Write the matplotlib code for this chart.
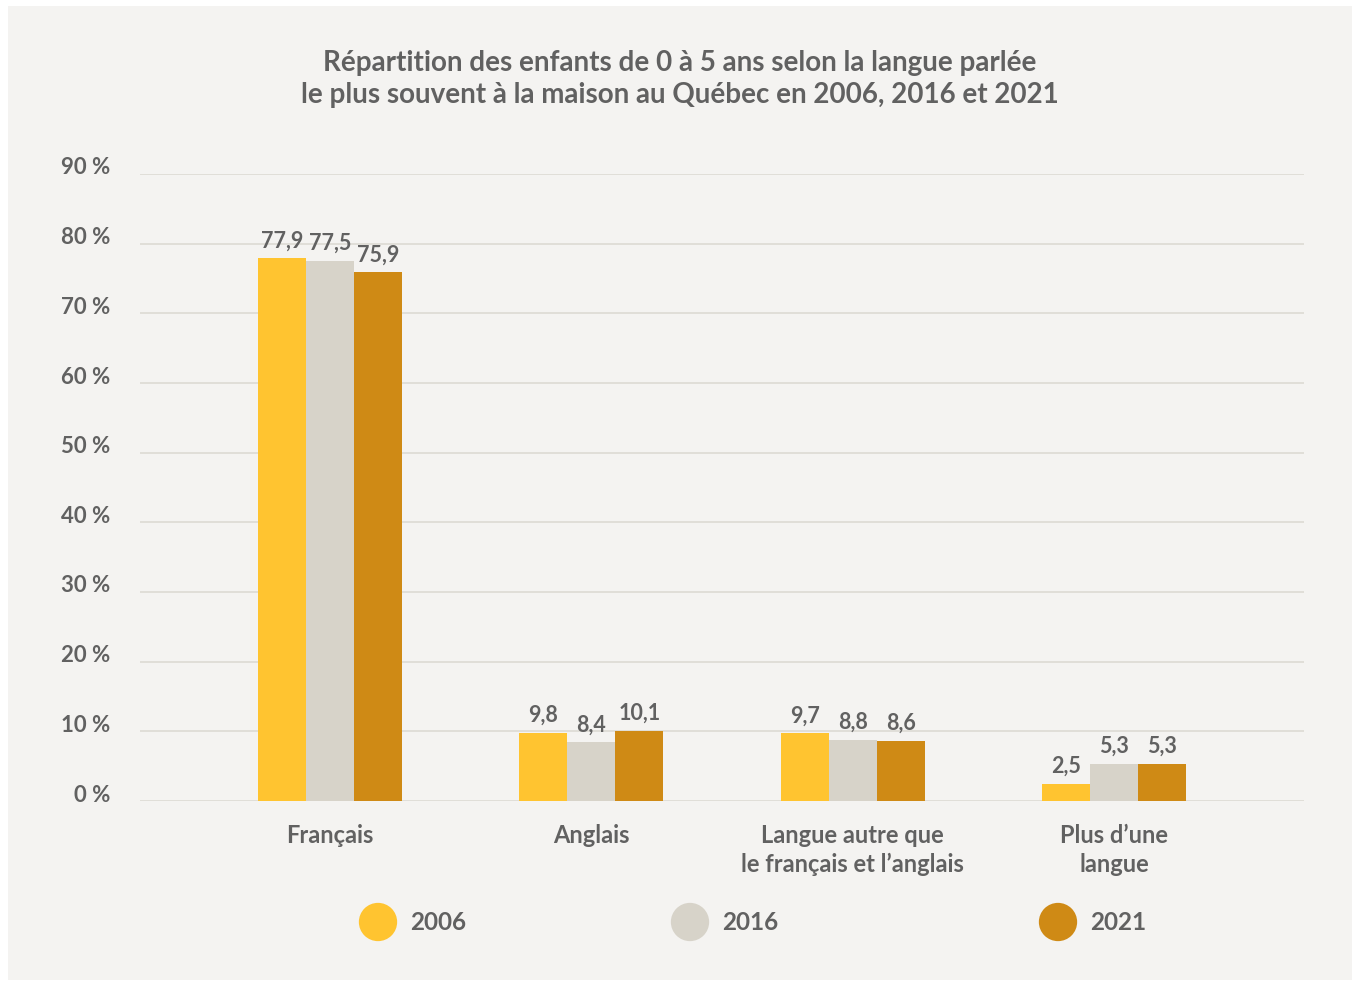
import matplotlib.pyplot as plt
import numpy as np
from matplotlib.patches import Rectangle
from matplotlib.transforms import offset_copy

plt.rcParams['font.family'] = ['Lato', 'DejaVu Sans']
plt.rcParams['font.weight'] = 'bold'

categories = ['Français', 'Anglais', 'Langue autre que\nle français et l\u2019anglais', 'Plus d\u2019une\nlangue']
years = ['2006', '2016', '2021']
v2006 = [77.9, 9.8, 9.7, 2.5]
v2016 = [77.5, 8.4, 8.8, 5.3]
v2021 = [75.9, 10.1, 8.6, 5.3]
yticks = [0, 10, 20, 30, 40, 50, 60, 70, 80, 90]

colors = ['#ffc430', '#d7d3c9', '#cf8a15']
txt = '#616161'
bg = '#f4f3f1'

fig = plt.figure(figsize=(13.53, 9.81), dpi=100)
fig.patch.set_facecolor('white')
fig.add_artist(Rectangle((8/1353, 1-980/981), 1344/1353, 974/981,
                         transform=fig.transFigure, facecolor=bg, edgecolor='none', zorder=-10))

ax = fig.add_axes([140/1353, 1-801/981, 1164/1353, 627/981])
ax.set_facecolor('none')

x = np.arange(len(categories))
w = 0.184
series = [v2006, v2016, v2021]
for i, vals in enumerate(series):
    pos = x + (i - 1) * w
    ax.bar(pos, vals, width=w, color=colors[i], zorder=3)
    for p, v in zip(pos, vals):
        ax.annotate(f'{v:.1f}'.replace('.', ','), (p, v), xytext=(0, 5), textcoords='offset points',
                    ha='center', va='bottom', fontsize=15.5, color=txt, fontweight='bold')

ax.set_xlim(-0.727, 3.727)
ax.set_ylim(0, 90)
for t in yticks:
    ax.axhline(t, color='#dddad4', lw=1.2, zorder=1)
    ax.text(-0.0258, t, f'{t} %', transform=offset_copy(ax.get_yaxis_transform(), fig=fig, y=6, units='dots'),
            ha='right', va='center', fontsize=16, color=txt, fontweight='bold')

ax.set_xticks(x)
ax.set_xticklabels(categories, fontsize=17, color=txt, fontweight='bold', linespacing=1.3)
ax.tick_params(axis='x', length=0, pad=16.5)
ax.set_yticks([])
for s in ax.spines.values():
    s.set_visible(False)

fig.text(680/1353, 1-79/981,
         'Répartition des enfants de 0 à 5 ans selon la langue parlée\n'
         'le plus souvent à la maison au Québec en 2006, 2016 et 2021',
         ha='center', va='center', fontsize=20, color=txt, fontweight='bold', linespacing=1.3)

# legend
lax = fig.add_axes([0, 0, 1, 1])
lax.set_xlim(0, 1353)
lax.set_ylim(981, 0)
lax.axis('off')
lx = [378, 690, 1058]
for cx, c, yr in zip(lx, colors, years):
    lax.scatter([cx], [922], s=760, color=c, edgecolors='none')
    lax.text(cx + 32, 923, yr, ha='left', va='center', fontsize=17.5, color=txt, fontweight='bold')

fig.savefig('out.png', dpi=100, facecolor='white')
